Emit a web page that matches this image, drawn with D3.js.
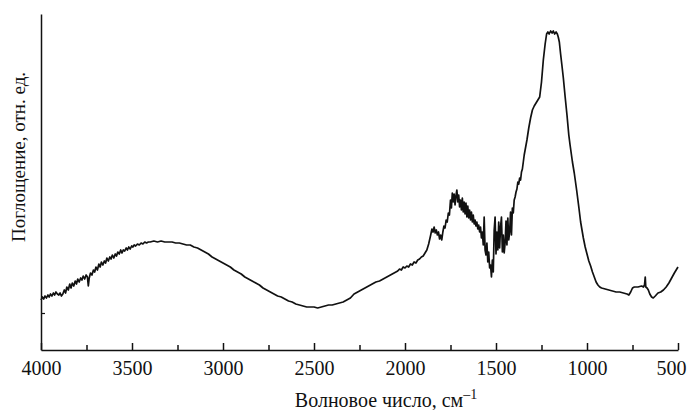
<!DOCTYPE html>
<html>
<head>
<meta charset="utf-8">
<script src="https://cdn.jsdelivr.net/npm/d3@7"></script>
<style>
body { margin: 0; background: #fff; }
svg { display: block; }
text { font-family: "Liberation Serif", "Times New Roman", serif; fill: #111; }
</style>
</head>
<body>
<svg id="chart" width="691" height="410"></svg>
<script>
// Wavenumber (cm^-1) and absorbance (relative units)
const wavenumber = [
4000,3992,3985,3978,3970,3962,3955,3948,3940,3932,3925,3918,3910,3902,3895,3888,3880,3872,3865,3858,
3850,3842,3835,3828,3820,3812,3805,3798,3790,3782,3775,3768,3760,3752,3745,3740,3735,3728,3720,3712,
3705,3698,3690,3682,3675,3668,3660,3652,3645,3638,3630,3622,3615,3608,3600,3592,3585,3578,3570,3562,
3555,3548,3540,3532,3525,3518,3510,3502,3495,3488,3480,3470,3460,3450,3440,3430,3420,3410,3400,3380,
3360,3340,3320,3300,3280,3260,3240,3220,3200,3180,3160,3140,3120,3100,3080,3060,3040,3020,3000,2980,
2960,2940,2920,2900,2880,2860,2840,2820,2800,2780,2760,2740,2720,2700,2680,2660,2640,2620,2600,2580,
2560,2540,2520,2500,2480,2460,2440,2420,2400,2380,2360,2340,2320,2300,2290,2280,2270,2260,2240,2220,
2200,2180,2160,2140,2120,2100,2080,2060,2040,2030,2020,2010,2000,1990,1980,1970,1960,1950,1940,1930,
1920,1910,1900,1890,1880,1870,1860,1852,1846,1840,1834,1828,1822,1816,1810,1804,1798,1792,1786,1780,
1774,1768,1762,1756,1750,1745,1740,1735,1730,1725,1720,1715,1710,1705,1700,1695,1690,1685,1680,1675,
1670,1665,1660,1655,1650,1645,1640,1635,1630,1625,1620,1615,1610,1605,1600,1595,1590,1585,1580,1575,
1570,1565,1560,1555,1550,1545,1540,1535,1530,1525,1520,1515,1510,1505,1500,1495,1490,1485,1480,1475,
1470,1465,1460,1455,1450,1445,1440,1435,1430,1425,1420,1415,1410,1405,1400,1395,1390,1385,1380,1375,
1370,1365,1360,1355,1350,1345,1340,1330,1320,1310,1300,1290,1280,1270,1260,1250,1240,1230,1222,1215,
1208,1200,1192,1185,1178,1170,1163,1158,1152,1145,1138,1130,1120,1110,1100,1093,1080,1070,1057,1045,
1035,1020,1010,1000,990,980,970,960,950,940,930,920,900,880,860,840,820,800,780,770,
760,750,740,720,700,690,684,680,677,670,663,655,645,636,625,610,595,580,565,550,
535,520,510,500
];
const absorbance = [
50,53,51,54,52,55,53,56,54,57,55,58,56,55,57,54,56,60,57,63,
60,66,62,67,64,69,66,71,68,72,70,74,71,75,73,64,72,77,75,80,
78,83,80,86,83,88,85,89,87,92,89,93,91,95,92,96,94,98,96,100,
97,100,99,102,100,103,101,104,103,105,104,106,105,107,106,108,107,108,108,109,
108,109,108,108,108,107,107,106,105,105,103,102,100,98,96,93,91,89,87,85,
83,80,78,76,73,71,69,67,65,62,60,58,56,54,53,51,49,48,46,45,
44,43,43,43,42,43,44,45,45,46,47,48,50,52,54,56,57,58,60,62,
64,66,68,69,71,73,75,77,79,81,80,83,82,84,83,86,85,88,87,90,
91,93,94,97,100,106,114,121,118,123,117,120,115,118,111,115,110,118,124,122,
130,128,137,135,150,142,157,148,156,145,154,160,148,155,143,150,140,152,138,148,
136,147,133,144,132,140,130,138,128,135,126,130,124,128,121,125,118,123,112,118,
105,133,100,95,107,88,98,82,85,73,90,78,120,133,96,118,100,128,102,123,
133,98,115,97,107,129,105,132,110,118,138,115,142,137,150,153,158,161,168,166,
172,170,178,181,188,195,200,210,222,232,240,244,247,250,253,268,290,306,316,318,
316,319,317,319,316,318,316,313,308,296,285,272,253,235,215,205,188,177,160,143,
128,112,103,96,89,84,78,73,68,65,63,62,61,60,59,58,58,57,56,55,
58,62,63,63,64,63,65,73,63,62,60,56,53,52,54,57,58,60,63,67,
72,77,80,83
];
const xMajorTicks = [4000,3500,3000,2500,2000,1500,1000,500];
const xMinorTicks = [3750,3250,2750,2250,1750,1250,750];
const yTicks = [37];
const xTitle = "Волновое число, см";
const xTitleSup = "–1";
const yTitle = "Поглощение, отн. ед.";

const svg = d3.select("#chart");
const mLeft = 41, mRight = 678, mTop = 14, mBottom = 350;

const x = d3.scaleLinear().domain([4000, 500]).range([mLeft, mRight]);
const y = d3.scaleLinear().domain([0, 336]).range([mBottom, mTop]);

// axes
const xAxis = d3.axisBottom(x).tickValues(xMajorTicks).tickSizeInner(-7).tickSizeOuter(0)
  .tickPadding(11).tickFormat(d3.format("d"));
const gx = svg.append("g").attr("transform", `translate(0,${mBottom})`).call(xAxis);
gx.select(".domain").attr("stroke", "#111").attr("stroke-width", 1.5);
gx.selectAll(".tick line").attr("stroke", "#111").attr("stroke-width", 1.5);
gx.selectAll(".tick text").attr("font-size", 20).attr("font-family", "Liberation Serif").attr("fill", "#111")
  .attr("dx", d => d === 500 ? -7 : 0);

const xAxisMinor = d3.axisBottom(x).tickValues(xMinorTicks).tickSizeInner(-5).tickSizeOuter(0).tickFormat("");
const gxm = svg.append("g").attr("transform", `translate(0,${mBottom})`).call(xAxisMinor);
gxm.select(".domain").remove();
gxm.selectAll(".tick line").attr("stroke", "#111").attr("stroke-width", 1.5);

const yAxis = d3.axisLeft(y).tickValues(yTicks).tickSizeInner(-4).tickSizeOuter(0).tickFormat("");
const gy = svg.append("g").attr("transform", `translate(${mLeft},0)`).call(yAxis);
gy.select(".domain").attr("stroke", "#111").attr("stroke-width", 1.5);
gy.selectAll(".tick line").attr("stroke", "#111").attr("stroke-width", 1.2);

// spectrum
const data = wavenumber.map((w, i) => ({w, a: absorbance[i]}));
const line = d3.line().x(d => x(d.w)).y(d => y(d.a));
svg.append("path").datum(data)
  .attr("d", line)
  .attr("fill", "none")
  .attr("stroke", "#111")
  .attr("stroke-width", 1.7)
  .attr("stroke-linejoin", "round");

// titles
const xt = svg.append("text")
  .attr("x", 386).attr("y", 407)
  .attr("text-anchor", "middle")
  .attr("font-size", 20);
xt.append("tspan").text(xTitle);
xt.append("tspan").attr("font-size", 14).attr("dy", -8).text(xTitleSup);

svg.append("text")
  .attr("transform", `translate(25,157) rotate(-90)`)
  .attr("text-anchor", "middle")
  .attr("font-size", 19)
  .text(yTitle);
</script>
</body>
</html>
